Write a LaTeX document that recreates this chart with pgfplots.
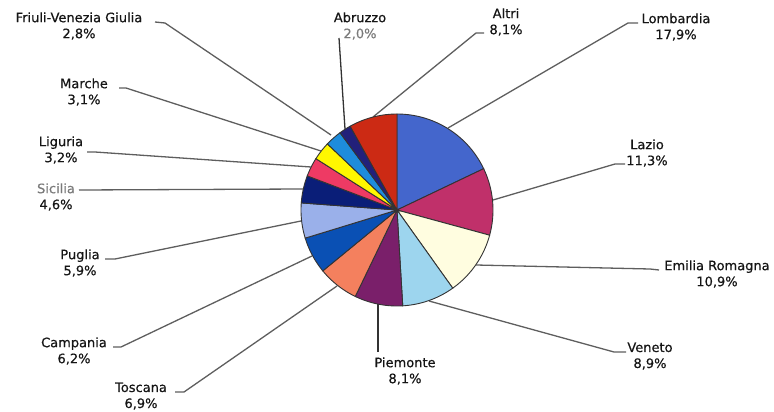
\documentclass[border=0pt]{standalone}
\usepackage{pgfplots}
\pgfplotsset{compat=1.18}
\usepackage{fontspec}
\setmainfont{DejaVu Sans}[FakeBold=0.5]
\definecolor{cLom}{HTML}{4466CC}
\definecolor{cLaz}{HTML}{C0306A}
\definecolor{cEmi}{HTML}{FFFDE0}
\definecolor{cVen}{HTML}{9DD5EE}
\definecolor{cPie}{HTML}{7A1F6A}
\definecolor{cTos}{HTML}{F4805E}
\definecolor{cCam}{HTML}{0A50B4}
\definecolor{cPug}{HTML}{9AB0EA}
\definecolor{cSic}{HTML}{0A1E78}
\definecolor{cLig}{HTML}{EE3A64}
\definecolor{cMar}{HTML}{FFF700}
\definecolor{cFri}{HTML}{1E8CDC}
\definecolor{cAbr}{HTML}{22207A}
\definecolor{cAlt}{HTML}{CC2A14}
\definecolor{txt}{HTML}{151515}
\definecolor{txtgray}{HTML}{7A7A7A}
\definecolor{lead}{HTML}{5E5E5E}
\tikzset{lbl/.style={align=center, inner sep=0pt, text=txt, font=\fontsize{13}{16}\selectfont}}
% slice: cumulative start %, cumulative end %, colour
\newcommand{\slice}[3]{%
  \addplot[fill=#3, draw=black!80, line width=0.9pt, domain=#1:#2, samples=40]
    ({397+96*cos(90-3.6036*x)}, {210-96*sin(90-3.6036*x)}) -- (axis cs:397,210) -- cycle;}
\begin{document}
\begin{tikzpicture}
\begin{axis}[width=774pt, height=412pt, scale only axis,
  xmin=0, xmax=774, ymin=0, ymax=412, y dir=reverse, hide axis, clip=false]
\path (rel axis cs:0,0) rectangle (rel axis cs:1,1);
% leader lines
\addplot[lead, line width=1.3pt] coordinates {(155,22) (165,23) (331,135)};
\addplot[lead, line width=1.3pt] coordinates {(119,88) (126,88) (321,151)};
\addplot[lead, line width=1.3pt] coordinates {(87,152) (95,152) (311,167)};
\addplot[lead, line width=1.3pt] coordinates {(79,190) (303,189)};
\addplot[lead, line width=1.3pt] coordinates {(105,259) (115,259) (301,221)};
\addplot[lead, line width=1.3pt] coordinates {(113,347) (121,347) (312,256)};
\addplot[lead, line width=1.3pt] coordinates {(175,392) (184,392) (337,286)};
\addplot[black!80, line width=1.3pt] coordinates {(378,352) (378,304)};
\addplot[lead, line width=1.3pt] coordinates {(626,352) (614,352) (429,301)};
\addplot[lead, line width=1.3pt] coordinates {(659,270) (650,269) (476,265)};
\addplot[lead, line width=1.3pt] coordinates {(625,164) (615,164) (493,200)};
\addplot[lead, line width=1.3pt] coordinates {(638,23) (628,23) (448,128)};
\addplot[lead, line width=1.3pt] coordinates {(484,33) (476,33) (373,117)};
\addplot[black!80, line width=1.3pt] coordinates {(339,38) (345,129)};
% pie: Lombardia 17.9, Lazio 11.3, Emilia Romagna 10.9, Veneto 8.9, Piemonte 8.1,
% Toscana 6.9, Campania 6.2, Puglia 5.9, Sicilia 4.6, Liguria 3.2, Marche 3.1,
% Friuli-Venezia Giulia 2.8, Abruzzo 2.0, Altri 8.1
\slice{0}{17.9}{cLom}
\slice{17.9}{29.2}{cLaz}
\slice{29.2}{40.1}{cEmi}
\slice{40.1}{49.0}{cVen}
\slice{49.0}{57.1}{cPie}
\slice{57.1}{64.0}{cTos}
\slice{64.0}{70.2}{cCam}
\slice{70.2}{76.1}{cPug}
\slice{76.1}{80.7}{cSic}
\slice{80.7}{83.9}{cLig}
\slice{83.9}{87.0}{cMar}
\slice{87.0}{89.8}{cFri}
\slice{89.8}{91.8}{cAbr}
\slice{91.8}{99.9}{cAlt}
% labels
\node[lbl] at (axis cs:79,26) {Friuli-Venezia Giulia\\2,8\%};
\node[lbl] at (axis cs:84,92) {Marche\\3,1\%};
\node[lbl] at (axis cs:61,150) {Liguria\\3,2\%};
\node[lbl] at (axis cs:56,197) {\textcolor{txtgray}{Sicilia}\\4,6\%};
\node[lbl] at (axis cs:80,263) {Puglia\\5,9\%};
\node[lbl] at (axis cs:74,351) {Campania\\6,2\%};
\node[lbl] at (axis cs:141,396) {Toscana\\6,9\%};
\node[lbl] at (axis cs:405,371) {Piemonte\\8,1\%};
\node[lbl] at (axis cs:650,356) {Veneto\\8,9\%};
\node[lbl] at (axis cs:717,274) {Emilia Romagna\\10,9\%};
\node[lbl] at (axis cs:647,153) {Lazio\\11,3\%};
\node[lbl] at (axis cs:676,27) {Lombardia\\17,9\%};
\node[lbl] at (axis cs:506,22) {Altri\\8,1\%};
\node[lbl] at (axis cs:360,26) {Abruzzo\\\textcolor{txtgray}{2,0\%}};
\end{axis}
\end{tikzpicture}
\end{document}
